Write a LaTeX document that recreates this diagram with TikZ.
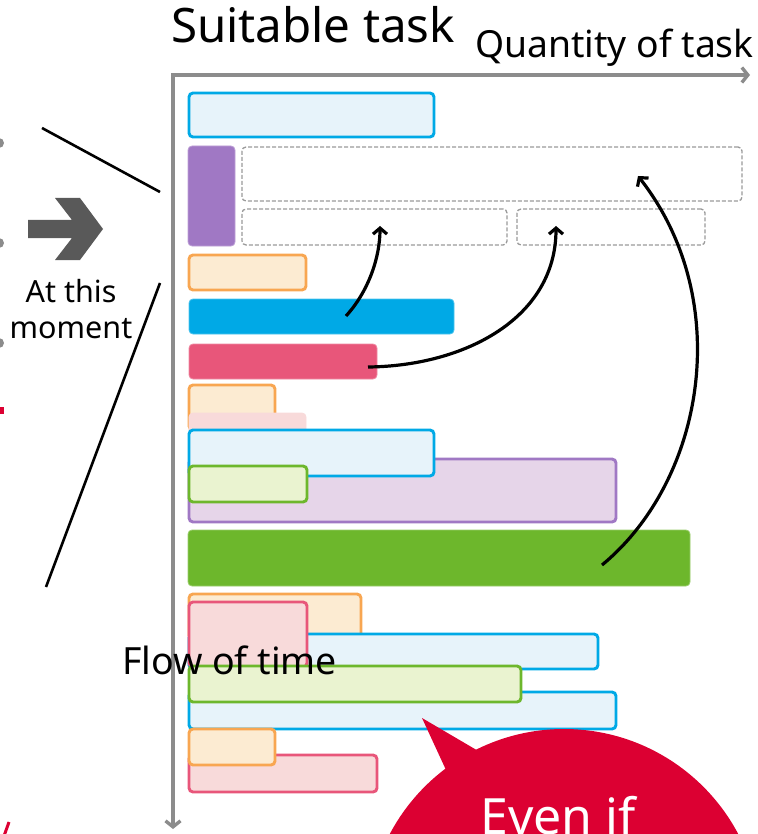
\documentclass[tikz,border=0pt]{standalone}
\usepackage{fontspec}
\setmainfont{Noto Sans}
\usetikzlibrary{arrows.meta,calc}

\definecolor{cyanline}{HTML}{00A9E6}
\definecolor{cyanfill}{HTML}{E7F3FA}
\definecolor{purpline}{HTML}{A078C4}
\definecolor{purpfill}{HTML}{E6D5E9}
\definecolor{orgline}{HTML}{F8A651}
\definecolor{orgfill}{HTML}{FCEBD2}
\definecolor{pinkline}{HTML}{E8567A}
\definecolor{pinkfill}{HTML}{F8DADA}
\definecolor{grnline}{HTML}{6DB72C}
\definecolor{grnfill}{HTML}{EAF3D0}
\definecolor{bubblered}{HTML}{DC0032}
\definecolor{axisgray}{HTML}{8C8C8C}
\definecolor{blockgray}{HTML}{595959}
\definecolor{dashgray}{HTML}{9A9A9A}

% task bar: style, name, left, top, width, height
\newcommand\tskbox[6]{\node[#1, anchor=north west, minimum width=#5pt, minimum height=#6pt] (#2) at (#3,#4) {};}

\begin{document}
\begin{tikzpicture}[x=1pt, y=-1pt,
  bar/.style={rectangle, rounded corners=4pt, inner sep=0pt, outer sep=0pt, line width=2.9pt},
  cyanbar/.style={bar, draw=cyanline, fill=cyanfill},
  cyansolid/.style={bar, draw=cyanline!70, line width=0.8pt, fill=cyanline},
  purpsolid/.style={bar, draw=purpline!70, line width=0.8pt, fill=purpline},
  purpbar/.style={bar, draw=purpline, fill=purpfill},
  orgbar/.style={bar, draw=orgline, fill=orgfill},
  pinkbar/.style={bar, draw=pinkline, fill=pinkfill},
  pinksolid/.style={bar, draw=pinkline!70, line width=0.8pt, fill=pinkline},
  pinkfaint/.style={bar, draw=pinkfill, line width=0.8pt, fill=pinkfill},
  grnbar/.style={bar, draw=grnline, fill=grnfill},
  grnsolid/.style={bar, draw=grnline!70, line width=0.8pt, fill=grnline},
  slot/.style={rectangle, rounded corners=4pt, inner sep=0pt, outer sep=0pt, draw=dashgray, line width=1.3pt, dash pattern=on 4pt off 2pt},
  axis/.style={draw=axisgray, line width=3.4pt},
  move/.style={draw=black, line width=3.2pt, -{Straight Barb[length=6pt, width=14pt, line width=3.2pt]}},
  guide/.style={draw=black, line width=2.6pt},
  lbl/.style={inner sep=0pt, outer sep=0pt, text=black}
]
\useasboundingbox (0,0) rectangle (757,834);
\clip (0,0) rectangle (757,834);

% axes
\coordinate (origin) at (173,75);
\coordinate (xend) at (750,75);
\coordinate (yend) at (173,829);
\draw[axis, {Straight Barb[length=6pt, width=15pt, line width=3.4pt]}-{Straight Barb[length=6pt, width=15pt, line width=3.4pt]}] (yend) -- (origin) -- (xend);

% headings
\node[lbl, anchor=base west, font=\fontsize{47.5}{47.5}\selectfont] (title) at (171,43) {Suitable task};
\node[lbl, anchor=base west, font=\fontsize{37.3}{37.3}\selectfont] (qty) at (475,58) {Quantity of task};

% left-hand markers
\fill[axisgray] (-1,143) circle (5);
\fill[axisgray] (-1,243) circle (5);
\fill[axisgray] (-1,343) circle (5);
\fill[bubblered] (0,407) rectangle (4,414);
\draw[bubblered, line width=3pt] (4,836) -- (9,822);

% block arrow and caption
\fill[blockgray] (28,220) -- (72,220) -- (55,198) -- (80,198) -- (103,229)
  -- (80,260) -- (55,260) -- (72,238) -- (28,238) -- cycle;
\node[lbl, anchor=base, font=\fontsize{30.5}{30.5}\selectfont] (at) at (71,302) {At this};
\node[lbl, anchor=base, font=\fontsize{30.5}{30.5}\selectfont] (mom) at (71,338) {moment};

% zoom guide lines
\coordinate (ga1) at (42,128);
\coordinate (gb1) at (160,192);
\coordinate (ga2) at (160,283);
\coordinate (gb2) at (46,587);
\draw[guide] (ga1) -- (gb1);
\draw[guide] (ga2) -- (gb2);

% current slots
\tskbox{cyanbar}{t1}{189}{93}{245}{44}
\tskbox{purpsolid}{t2}{188}{146}{47}{100}
\tskbox{slot}{s1}{242}{147}{500}{54}
\tskbox{slot}{s2}{242}{209}{265}{36}
\tskbox{slot}{s3}{517}{209}{188}{36}

% queued tasks
\tskbox{orgbar}{t3}{189}{255}{117}{35}
\tskbox{cyansolid}{t4}{189}{299}{265}{35}
\tskbox{pinksolid}{t5}{189}{344}{188}{35}
\tskbox{orgbar}{t6}{189}{385}{86}{45}
\tskbox{pinkfaint}{t7}{189}{413}{117}{30}
\tskbox{purpbar}{t9}{189}{459}{427}{63}
\tskbox{cyanbar}{t8}{189}{430}{245}{46}
\tskbox{grnbar}{t10}{189}{466}{118}{36}
\tskbox{grnsolid}{t11}{188}{530}{502}{56}
\tskbox{orgbar}{t12}{189}{594}{172}{45}
\tskbox{cyanbar}{t13}{189}{634}{409}{35}
\tskbox{pinkbar}{t14}{189}{602}{118}{65}
\tskbox{cyanbar}{t16}{189}{692}{427}{37}
\tskbox{grnbar}{t15}{189}{666}{332}{36}
\tskbox{pinkbar}{t18}{189}{755}{188}{37}
\tskbox{orgbar}{t17}{189}{729}{86}{36}

\node[lbl, anchor=base west, font=\fontsize{37.5}{37.5}\selectfont] (flow) at (122,674) {Flow of time};

% moves into free slots
\coordinate (m1s) at ($(t4.north west)+(157,17)$);
\coordinate (m1e) at ($(s2.north west)+(138,17)$);
\coordinate (m2s) at ($(t5.north west)+(179,23)$);
\coordinate (m2e) at ($(s3.north west)+(39,17)$);
\coordinate (m3s) at ($(t11.north west)+(414,35)$);
\coordinate (m3e) at ($(s1.north west)+(396,29)$);
\draw[move] (m1s) .. controls (368,292) and (380,258) .. (m1e);
\draw[move] (m2s) .. controls (465,366) and (556,318) .. (m2e);
\draw[move] (m3s) .. controls (705,480) and (735,300) .. (m3e);

% speech bubble
\coordinate (tailtip) at (422,718);
\fill[bubblered] (tailtip) -- (480,752) -- (446,770) -- cycle;
\fill[bubblered] (564,926) circle (197);
\node[lbl, text=white, anchor=base, font=\fontsize{50}{50}\selectfont] (even) at (558,834) {Even if};
\end{tikzpicture}
\end{document}
